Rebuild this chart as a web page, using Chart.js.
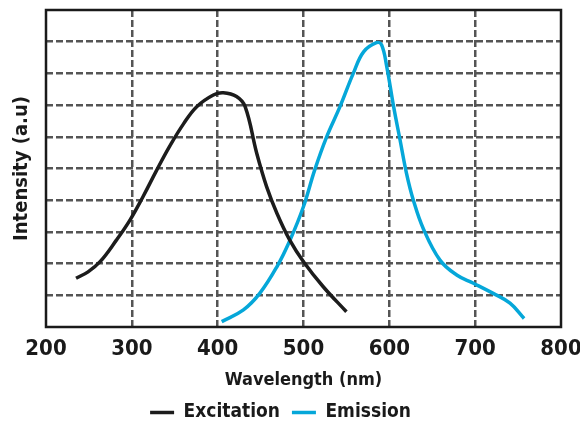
<!DOCTYPE html>
<html lang="en">
<head>
  <meta charset="UTF-8">
  <title>Excitation / Emission</title>
  <script src="https://cdn.jsdelivr.net/npm/chart.js"></script>
  <style>
    html, body { margin: 0; padding: 0; background: #fff; }
    #box { width: 580px; height: 427px; }
  </style>
</head>
<body>
  <div id="box"><canvas id="grafico"></canvas></div>
<script>
  var excitacaoX = [235, 249, 263, 282, 298, 313, 329, 344.5, 360, 375.6, 395, 406.6, 422, 432, 445.5, 457, 469, 484, 500, 523, 550];
  var excitacaoY = [1.54, 1.74, 2.06, 2.74, 3.38, 4.11, 4.95, 5.72, 6.4, 6.95, 7.32, 7.39, 7.27, 6.95, 5.48, 4.43, 3.59, 2.74, 2.06, 1.27, 0.48];
  var emissaoX = [404.7, 430, 449, 469, 484, 500, 513, 527, 542.5, 558, 570, 585, 591, 597, 605, 612.5, 620, 628, 639.6, 659, 678.5, 698, 721, 740.6, 757];
  var emissaoY = [0.17, 0.54, 1.06, 1.9, 2.72, 3.8, 4.95, 6.0, 6.95, 8.0, 8.68, 8.97, 8.9, 8.21, 6.95, 5.9, 4.85, 4.0, 3.1, 2.11, 1.64, 1.38, 1.06, 0.75, 0.27];
  var ticksX = [200, 300, 400, 500, 600, 700, 800];

  var fonte = "'DejaVu Sans Condensed', 'DejaVu Sans', sans-serif";

  function pares(xs, ys) {
    var lista = [];
    for (var i = 0; i < xs.length; i++) lista.push({ x: xs[i], y: ys[i] });
    return lista;
  }

  // moldura preta em volta da area do grafico
  var moldura = {
    id: 'moldura',
    afterDraw: function (chart) {
      var a = chart.chartArea, c = chart.ctx;
      c.save();
      c.strokeStyle = '#1a1a1a';
      c.lineWidth = 2.5;
      c.strokeRect(a.left, a.top, a.right - a.left, a.bottom - a.top);
      c.restore();
    }
  };

  new Chart(document.getElementById('grafico'), {
    type: 'line',
    data: {
      datasets: [{
        label: 'Excitation',
        data: pares(excitacaoX, excitacaoY),
        borderColor: '#1c1c1c',
        backgroundColor: '#1c1c1c',
        borderWidth: 3.5,
        pointRadius: 0,
        tension: 0.4,
        pointStyle: 'line'
      }, {
        label: 'Emission',
        data: pares(emissaoX, emissaoY),
        borderColor: '#05a7d9',
        backgroundColor: '#05a7d9',
        borderWidth: 3.5,
        pointRadius: 0,
        tension: 0.4,
        pointStyle: 'line'
      }]
    },
    options: {
      responsive: true,
      maintainAspectRatio: false,
      animation: false,
      layout: { padding: { top: 10, right: 19, left: 0, bottom: -5 } },
      plugins: {
        tooltip: { enabled: false },
        legend: {
          position: 'bottom',
          labels: {
            usePointStyle: true,
            pointStyleWidth: 24,
            color: '#1a1a1a',
            padding: 12,
            font: { family: fonte, size: 19, weight: 'bold' }
          }
        }
      },
      scales: {
        x: {
          type: 'linear',
          min: 200,
          max: 800,
          afterBuildTicks: function (s) { s.ticks = ticksX.map(function (v) { return { value: v }; }); },
          afterFit: function (s) { s.height = 64; s.paddingLeft = 0; s.paddingRight = 0; },
          grid: {
            drawTicks: false,
            color: function (c) { return (c.tick.value === 200 || c.tick.value === 800) ? 'rgba(0,0,0,0)' : '#555'; },
            lineWidth: 2.5
          },
          border: { display: false, dash: [7, 3] },
          ticks: {
            color: '#1a1a1a',
            padding: 9,
            maxRotation: 0,
            font: { family: fonte, size: 22, weight: 'bold' }
          },
          title: {
            display: true,
            text: 'Wavelength (nm)',
            color: '#1a1a1a',
            padding: { top: 0, bottom: 0 },
            font: { family: fonte, size: 18, weight: 'bold' }
          }
        },
        y: {
          min: 0,
          max: 10,
          ticks: { display: false, stepSize: 1 },
          afterFit: function (s) { s.width = 46; },
          grid: {
            drawTicks: false,
            color: function (c) { return (c.tick.value === 0 || c.tick.value === 10) ? 'rgba(0,0,0,0)' : '#555'; },
            lineWidth: 2.5
          },
          border: { display: false, dash: [7, 3] },
          title: {
            display: true,
            text: 'Intensity (a.u)',
            color: '#1a1a1a',
            padding: { top: 10, bottom: 0 },
            font: { family: fonte, size: 20, weight: 'bold' }
          }
        }
      }
    },
    plugins: [moldura]
  });
</script>
</body>
</html>
